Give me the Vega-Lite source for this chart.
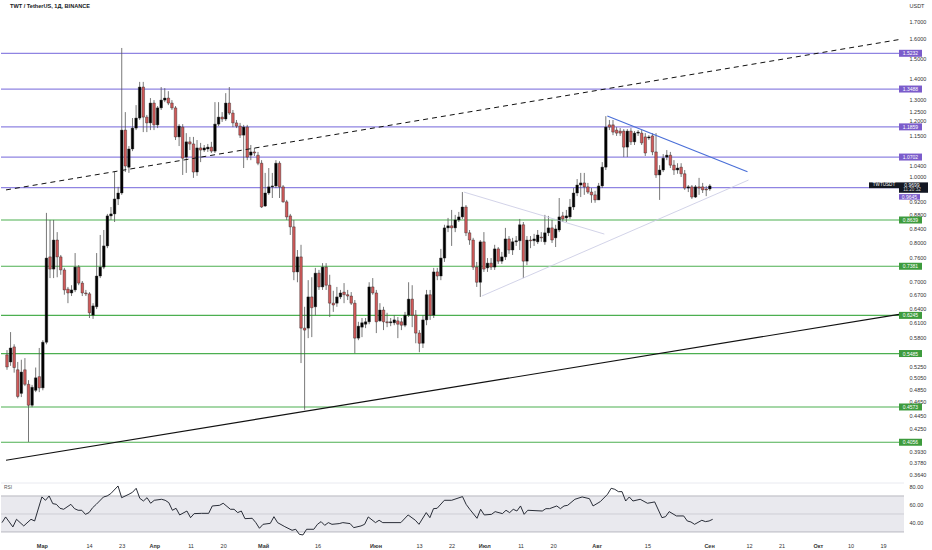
{
  "$schema": "https://vega.github.io/schema/vega-lite/v6.json",
  "padding": 0,
  "background": "white",
  "spacing": 0,
  "config": {
    "view": {"stroke": null},
    "font": "Liberation Sans",
    "axis": {"grid": false, "domain": false, "ticks": false, "labelFont": "Liberation Sans", "labelFontSize": 5.5, "labelColor": "#333333", "labelOverlap": false}
  },
  "datasets": {
    "candles": [
      {"d": "2022-02-18", "o": 0.546, "h": 0.555, "l": 0.519, "c": 0.524},
      {"d": "2022-02-19", "o": 0.533, "h": 0.590, "l": 0.526, "c": 0.559},
      {"d": "2022-02-20", "o": 0.561, "h": 0.566, "l": 0.514, "c": 0.523},
      {"d": "2022-02-21", "o": 0.519, "h": 0.533, "l": 0.471, "c": 0.474},
      {"d": "2022-02-22", "o": 0.479, "h": 0.537, "l": 0.473, "c": 0.515},
      {"d": "2022-02-23", "o": 0.519, "h": 0.540, "l": 0.491, "c": 0.494},
      {"d": "2022-02-24", "o": 0.494, "h": 0.501, "l": 0.406, "c": 0.460},
      {"d": "2022-02-25", "o": 0.460, "h": 0.493, "l": 0.457, "c": 0.489},
      {"d": "2022-02-26", "o": 0.484, "h": 0.523, "l": 0.481, "c": 0.505},
      {"d": "2022-02-27", "o": 0.507, "h": 0.559, "l": 0.481, "c": 0.488},
      {"d": "2022-02-28", "o": 0.488, "h": 0.574, "l": 0.484, "c": 0.570},
      {"d": "2022-03-01", "o": 0.570, "h": 0.885, "l": 0.566, "c": 0.759},
      {"d": "2022-03-02", "o": 0.762, "h": 0.864, "l": 0.709, "c": 0.731},
      {"d": "2022-03-03", "o": 0.731, "h": 0.864, "l": 0.709, "c": 0.807},
      {"d": "2022-03-04", "o": 0.807, "h": 0.829, "l": 0.711, "c": 0.762},
      {"d": "2022-03-05", "o": 0.762, "h": 0.767, "l": 0.717, "c": 0.729},
      {"d": "2022-03-06", "o": 0.729, "h": 0.734, "l": 0.670, "c": 0.681},
      {"d": "2022-03-07", "o": 0.683, "h": 0.688, "l": 0.651, "c": 0.674},
      {"d": "2022-03-08", "o": 0.674, "h": 0.692, "l": 0.667, "c": 0.681},
      {"d": "2022-03-09", "o": 0.681, "h": 0.772, "l": 0.676, "c": 0.736},
      {"d": "2022-03-10", "o": 0.736, "h": 0.741, "l": 0.692, "c": 0.697},
      {"d": "2022-03-11", "o": 0.697, "h": 0.702, "l": 0.667, "c": 0.674},
      {"d": "2022-03-12", "o": 0.674, "h": 0.681, "l": 0.667, "c": 0.672},
      {"d": "2022-03-13", "o": 0.672, "h": 0.676, "l": 0.619, "c": 0.630},
      {"d": "2022-03-14", "o": 0.625, "h": 0.651, "l": 0.617, "c": 0.645},
      {"d": "2022-03-15", "o": 0.643, "h": 0.772, "l": 0.638, "c": 0.714},
      {"d": "2022-03-16", "o": 0.714, "h": 0.821, "l": 0.709, "c": 0.736},
      {"d": "2022-03-17", "o": 0.736, "h": 0.835, "l": 0.731, "c": 0.791},
      {"d": "2022-03-18", "o": 0.791, "h": 0.882, "l": 0.785, "c": 0.876},
      {"d": "2022-03-19", "o": 0.876, "h": 0.903, "l": 0.864, "c": 0.882},
      {"d": "2022-03-20", "o": 0.882, "h": 1.017, "l": 0.858, "c": 0.928},
      {"d": "2022-03-21", "o": 0.928, "h": 0.967, "l": 0.909, "c": 0.947},
      {"d": "2022-03-22", "o": 0.947, "h": 1.551, "l": 0.941, "c": 1.173},
      {"d": "2022-03-23", "o": 1.173, "h": 1.247, "l": 1.017, "c": 1.038},
      {"d": "2022-03-24", "o": 1.034, "h": 1.111, "l": 1.014, "c": 1.100},
      {"d": "2022-03-25", "o": 1.100, "h": 1.222, "l": 1.092, "c": 1.181},
      {"d": "2022-03-26", "o": 1.181, "h": 1.277, "l": 1.173, "c": 1.222},
      {"d": "2022-03-27", "o": 1.222, "h": 1.382, "l": 1.214, "c": 1.358},
      {"d": "2022-03-28", "o": 1.358, "h": 1.382, "l": 1.165, "c": 1.226},
      {"d": "2022-03-29", "o": 1.226, "h": 1.235, "l": 1.165, "c": 1.202},
      {"d": "2022-03-30", "o": 1.202, "h": 1.308, "l": 1.173, "c": 1.286},
      {"d": "2022-03-31", "o": 1.286, "h": 1.299, "l": 1.173, "c": 1.194},
      {"d": "2022-04-01", "o": 1.194, "h": 1.273, "l": 1.181, "c": 1.265},
      {"d": "2022-04-02", "o": 1.265, "h": 1.358, "l": 1.256, "c": 1.299},
      {"d": "2022-04-03", "o": 1.299, "h": 1.353, "l": 1.290, "c": 1.308},
      {"d": "2022-04-04", "o": 1.308, "h": 1.339, "l": 1.277, "c": 1.286},
      {"d": "2022-04-05", "o": 1.286, "h": 1.299, "l": 1.256, "c": 1.265},
      {"d": "2022-04-06", "o": 1.265, "h": 1.273, "l": 1.134, "c": 1.146},
      {"d": "2022-04-07", "o": 1.146, "h": 1.197, "l": 1.111, "c": 1.189},
      {"d": "2022-04-08", "o": 1.185, "h": 1.197, "l": 1.007, "c": 1.066},
      {"d": "2022-04-09", "o": 1.070, "h": 1.161, "l": 1.014, "c": 1.127},
      {"d": "2022-04-10", "o": 1.127, "h": 1.146, "l": 1.096, "c": 1.119},
      {"d": "2022-04-11", "o": 1.119, "h": 1.146, "l": 0.997, "c": 1.017},
      {"d": "2022-04-12", "o": 1.017, "h": 1.134, "l": 1.004, "c": 1.104},
      {"d": "2022-04-13", "o": 1.104, "h": 1.123, "l": 1.052, "c": 1.096},
      {"d": "2022-04-14", "o": 1.096, "h": 1.115, "l": 1.089, "c": 1.104},
      {"d": "2022-04-15", "o": 1.100, "h": 1.119, "l": 1.089, "c": 1.107},
      {"d": "2022-04-16", "o": 1.107, "h": 1.127, "l": 1.085, "c": 1.092},
      {"d": "2022-04-17", "o": 1.092, "h": 1.290, "l": 1.085, "c": 1.197},
      {"d": "2022-04-18", "o": 1.197, "h": 1.290, "l": 1.189, "c": 1.226},
      {"d": "2022-04-19", "o": 1.226, "h": 1.247, "l": 1.206, "c": 1.218},
      {"d": "2022-04-20", "o": 1.218, "h": 1.330, "l": 1.210, "c": 1.286},
      {"d": "2022-04-21", "o": 1.286, "h": 1.358, "l": 1.235, "c": 1.243},
      {"d": "2022-04-22", "o": 1.243, "h": 1.256, "l": 1.185, "c": 1.202},
      {"d": "2022-04-23", "o": 1.202, "h": 1.214, "l": 1.181, "c": 1.189},
      {"d": "2022-04-24", "o": 1.189, "h": 1.202, "l": 1.142, "c": 1.153},
      {"d": "2022-04-25", "o": 1.153, "h": 1.194, "l": 1.031, "c": 1.185},
      {"d": "2022-04-26", "o": 1.185, "h": 1.194, "l": 1.059, "c": 1.070},
      {"d": "2022-04-27", "o": 1.077, "h": 1.115, "l": 1.059, "c": 1.089},
      {"d": "2022-04-28", "o": 1.089, "h": 1.104, "l": 1.074, "c": 1.085},
      {"d": "2022-04-29", "o": 1.077, "h": 1.089, "l": 1.041, "c": 1.048},
      {"d": "2022-04-30", "o": 1.048, "h": 1.059, "l": 0.900, "c": 0.903},
      {"d": "2022-05-01", "o": 0.906, "h": 1.014, "l": 0.903, "c": 0.947},
      {"d": "2022-05-02", "o": 0.947, "h": 1.031, "l": 0.941, "c": 0.967},
      {"d": "2022-05-03", "o": 0.967, "h": 1.014, "l": 0.931, "c": 0.970},
      {"d": "2022-05-04", "o": 0.970, "h": 1.059, "l": 0.963, "c": 1.048},
      {"d": "2022-05-05", "o": 1.048, "h": 1.055, "l": 0.931, "c": 0.967},
      {"d": "2022-05-06", "o": 0.967, "h": 0.973, "l": 0.916, "c": 0.919},
      {"d": "2022-05-07", "o": 0.919, "h": 0.925, "l": 0.864, "c": 0.873},
      {"d": "2022-05-08", "o": 0.876, "h": 0.882, "l": 0.821, "c": 0.844},
      {"d": "2022-05-09", "o": 0.844, "h": 0.864, "l": 0.704, "c": 0.724},
      {"d": "2022-05-10", "o": 0.724, "h": 0.780, "l": 0.699, "c": 0.762},
      {"d": "2022-05-11", "o": 0.762, "h": 0.794, "l": 0.531, "c": 0.598},
      {"d": "2022-05-12", "o": 0.598, "h": 0.643, "l": 0.453, "c": 0.594},
      {"d": "2022-05-13", "o": 0.598, "h": 0.704, "l": 0.578, "c": 0.665},
      {"d": "2022-05-14", "o": 0.665, "h": 0.711, "l": 0.580, "c": 0.641},
      {"d": "2022-05-15", "o": 0.643, "h": 0.734, "l": 0.625, "c": 0.721},
      {"d": "2022-05-16", "o": 0.721, "h": 0.729, "l": 0.681, "c": 0.688},
      {"d": "2022-05-17", "o": 0.688, "h": 0.746, "l": 0.681, "c": 0.736},
      {"d": "2022-05-18", "o": 0.736, "h": 0.746, "l": 0.681, "c": 0.692},
      {"d": "2022-05-19", "o": 0.692, "h": 0.717, "l": 0.621, "c": 0.651},
      {"d": "2022-05-20", "o": 0.651, "h": 0.679, "l": 0.632, "c": 0.647},
      {"d": "2022-05-21", "o": 0.651, "h": 0.688, "l": 0.643, "c": 0.665},
      {"d": "2022-05-22", "o": 0.665, "h": 0.681, "l": 0.660, "c": 0.674},
      {"d": "2022-05-23", "o": 0.676, "h": 0.697, "l": 0.651, "c": 0.670},
      {"d": "2022-05-24", "o": 0.670, "h": 0.681, "l": 0.658, "c": 0.667},
      {"d": "2022-05-25", "o": 0.667, "h": 0.676, "l": 0.647, "c": 0.651},
      {"d": "2022-05-26", "o": 0.651, "h": 0.658, "l": 0.549, "c": 0.578},
      {"d": "2022-05-27", "o": 0.578, "h": 0.611, "l": 0.574, "c": 0.602},
      {"d": "2022-05-28", "o": 0.600, "h": 0.619, "l": 0.580, "c": 0.609},
      {"d": "2022-05-29", "o": 0.606, "h": 0.619, "l": 0.598, "c": 0.611},
      {"d": "2022-05-30", "o": 0.611, "h": 0.699, "l": 0.606, "c": 0.688},
      {"d": "2022-05-31", "o": 0.688, "h": 0.709, "l": 0.670, "c": 0.674},
      {"d": "2022-06-01", "o": 0.674, "h": 0.681, "l": 0.588, "c": 0.611},
      {"d": "2022-06-02", "o": 0.613, "h": 0.651, "l": 0.611, "c": 0.636},
      {"d": "2022-06-03", "o": 0.636, "h": 0.643, "l": 0.594, "c": 0.611},
      {"d": "2022-06-04", "o": 0.611, "h": 0.630, "l": 0.600, "c": 0.609},
      {"d": "2022-06-05", "o": 0.609, "h": 0.619, "l": 0.602, "c": 0.611},
      {"d": "2022-06-06", "o": 0.609, "h": 0.625, "l": 0.604, "c": 0.615},
      {"d": "2022-06-07", "o": 0.613, "h": 0.621, "l": 0.578, "c": 0.606},
      {"d": "2022-06-08", "o": 0.611, "h": 0.619, "l": 0.594, "c": 0.604},
      {"d": "2022-06-09", "o": 0.604, "h": 0.632, "l": 0.600, "c": 0.625},
      {"d": "2022-06-10", "o": 0.625, "h": 0.699, "l": 0.621, "c": 0.660},
      {"d": "2022-06-11", "o": 0.660, "h": 0.692, "l": 0.600, "c": 0.625},
      {"d": "2022-06-12", "o": 0.625, "h": 0.636, "l": 0.568, "c": 0.588},
      {"d": "2022-06-13", "o": 0.588, "h": 0.594, "l": 0.551, "c": 0.568},
      {"d": "2022-06-14", "o": 0.568, "h": 0.625, "l": 0.559, "c": 0.615},
      {"d": "2022-06-15", "o": 0.615, "h": 0.681, "l": 0.604, "c": 0.670},
      {"d": "2022-06-16", "o": 0.670, "h": 0.681, "l": 0.615, "c": 0.625},
      {"d": "2022-06-17", "o": 0.625, "h": 0.734, "l": 0.619, "c": 0.724},
      {"d": "2022-06-18", "o": 0.724, "h": 0.734, "l": 0.704, "c": 0.714},
      {"d": "2022-06-19", "o": 0.714, "h": 0.783, "l": 0.704, "c": 0.759},
      {"d": "2022-06-20", "o": 0.759, "h": 0.850, "l": 0.749, "c": 0.841},
      {"d": "2022-06-21", "o": 0.841, "h": 0.870, "l": 0.829, "c": 0.847},
      {"d": "2022-06-22", "o": 0.847, "h": 0.894, "l": 0.791, "c": 0.841},
      {"d": "2022-06-23", "o": 0.841, "h": 0.879, "l": 0.829, "c": 0.864},
      {"d": "2022-06-24", "o": 0.864, "h": 0.888, "l": 0.858, "c": 0.873},
      {"d": "2022-06-25", "o": 0.873, "h": 0.950, "l": 0.867, "c": 0.903},
      {"d": "2022-06-26", "o": 0.903, "h": 0.909, "l": 0.818, "c": 0.827},
      {"d": "2022-06-27", "o": 0.827, "h": 0.835, "l": 0.794, "c": 0.807},
      {"d": "2022-06-28", "o": 0.807, "h": 0.813, "l": 0.729, "c": 0.736},
      {"d": "2022-06-29", "o": 0.736, "h": 0.749, "l": 0.688, "c": 0.699},
      {"d": "2022-06-30", "o": 0.699, "h": 0.807, "l": 0.665, "c": 0.802},
      {"d": "2022-07-01", "o": 0.802, "h": 0.829, "l": 0.724, "c": 0.731},
      {"d": "2022-07-02", "o": 0.734, "h": 0.759, "l": 0.724, "c": 0.746},
      {"d": "2022-07-03", "o": 0.746, "h": 0.759, "l": 0.729, "c": 0.736},
      {"d": "2022-07-04", "o": 0.736, "h": 0.794, "l": 0.729, "c": 0.783},
      {"d": "2022-07-05", "o": 0.783, "h": 0.788, "l": 0.744, "c": 0.751},
      {"d": "2022-07-06", "o": 0.751, "h": 0.775, "l": 0.744, "c": 0.762},
      {"d": "2022-07-07", "o": 0.762, "h": 0.841, "l": 0.754, "c": 0.810},
      {"d": "2022-07-08", "o": 0.810, "h": 0.818, "l": 0.770, "c": 0.780},
      {"d": "2022-07-09", "o": 0.780, "h": 0.813, "l": 0.767, "c": 0.802},
      {"d": "2022-07-10", "o": 0.802, "h": 0.818, "l": 0.791, "c": 0.805},
      {"d": "2022-07-11", "o": 0.805, "h": 0.867, "l": 0.780, "c": 0.850},
      {"d": "2022-07-12", "o": 0.850, "h": 0.858, "l": 0.709, "c": 0.751},
      {"d": "2022-07-13", "o": 0.751, "h": 0.818, "l": 0.741, "c": 0.807},
      {"d": "2022-07-14", "o": 0.807, "h": 0.818, "l": 0.785, "c": 0.805},
      {"d": "2022-07-15", "o": 0.805, "h": 0.824, "l": 0.791, "c": 0.810},
      {"d": "2022-07-16", "o": 0.802, "h": 0.835, "l": 0.796, "c": 0.821},
      {"d": "2022-07-17", "o": 0.815, "h": 0.829, "l": 0.802, "c": 0.813},
      {"d": "2022-07-18", "o": 0.802, "h": 0.879, "l": 0.794, "c": 0.827},
      {"d": "2022-07-19", "o": 0.827, "h": 0.876, "l": 0.818, "c": 0.841},
      {"d": "2022-07-20", "o": 0.841, "h": 0.864, "l": 0.799, "c": 0.807},
      {"d": "2022-07-21", "o": 0.813, "h": 0.850, "l": 0.788, "c": 0.838},
      {"d": "2022-07-22", "o": 0.835, "h": 0.931, "l": 0.829, "c": 0.873},
      {"d": "2022-07-23", "o": 0.876, "h": 0.888, "l": 0.858, "c": 0.867},
      {"d": "2022-07-24", "o": 0.870, "h": 0.894, "l": 0.858, "c": 0.876},
      {"d": "2022-07-25", "o": 0.873, "h": 0.928, "l": 0.867, "c": 0.903},
      {"d": "2022-07-26", "o": 0.903, "h": 0.963, "l": 0.894, "c": 0.947},
      {"d": "2022-07-27", "o": 0.947, "h": 0.993, "l": 0.937, "c": 0.973},
      {"d": "2022-07-28", "o": 0.973, "h": 1.014, "l": 0.934, "c": 0.980},
      {"d": "2022-07-29", "o": 0.980, "h": 1.014, "l": 0.941, "c": 0.967},
      {"d": "2022-07-30", "o": 0.967, "h": 0.980, "l": 0.944, "c": 0.950},
      {"d": "2022-07-31", "o": 0.950, "h": 0.963, "l": 0.916, "c": 0.941},
      {"d": "2022-08-01", "o": 0.941, "h": 0.954, "l": 0.916, "c": 0.925},
      {"d": "2022-08-02", "o": 0.925, "h": 0.980, "l": 0.925, "c": 0.970},
      {"d": "2022-08-03", "o": 0.970, "h": 1.052, "l": 0.963, "c": 1.034},
      {"d": "2022-08-04", "o": 1.034, "h": 1.230, "l": 1.024, "c": 1.185},
      {"d": "2022-08-05", "o": 1.194, "h": 1.214, "l": 1.173, "c": 1.185},
      {"d": "2022-08-06", "o": 1.194, "h": 1.214, "l": 1.153, "c": 1.165},
      {"d": "2022-08-07", "o": 1.173, "h": 1.185, "l": 1.150, "c": 1.161},
      {"d": "2022-08-08", "o": 1.169, "h": 1.181, "l": 1.150, "c": 1.161},
      {"d": "2022-08-09", "o": 1.169, "h": 1.177, "l": 1.070, "c": 1.107},
      {"d": "2022-08-10", "o": 1.107, "h": 1.177, "l": 1.070, "c": 1.169},
      {"d": "2022-08-11", "o": 1.169, "h": 1.181, "l": 1.115, "c": 1.127},
      {"d": "2022-08-12", "o": 1.127, "h": 1.169, "l": 1.115, "c": 1.161},
      {"d": "2022-08-13", "o": 1.161, "h": 1.173, "l": 1.150, "c": 1.165},
      {"d": "2022-08-14", "o": 1.161, "h": 1.173, "l": 1.115, "c": 1.123},
      {"d": "2022-08-15", "o": 1.146, "h": 1.161, "l": 1.074, "c": 1.085},
      {"d": "2022-08-16", "o": 1.142, "h": 1.153, "l": 1.134, "c": 1.146},
      {"d": "2022-08-17", "o": 1.150, "h": 1.161, "l": 1.077, "c": 1.089},
      {"d": "2022-08-18", "o": 1.089, "h": 1.161, "l": 0.997, "c": 1.007},
      {"d": "2022-08-19", "o": 1.007, "h": 1.041, "l": 0.925, "c": 1.024},
      {"d": "2022-08-20", "o": 1.024, "h": 1.081, "l": 1.017, "c": 1.066},
      {"d": "2022-08-21", "o": 1.070, "h": 1.096, "l": 1.059, "c": 1.077},
      {"d": "2022-08-22", "o": 1.077, "h": 1.089, "l": 1.031, "c": 1.041},
      {"d": "2022-08-23", "o": 1.041, "h": 1.059, "l": 1.007, "c": 1.024},
      {"d": "2022-08-24", "o": 1.024, "h": 1.048, "l": 1.011, "c": 1.031},
      {"d": "2022-08-25", "o": 1.034, "h": 1.048, "l": 1.000, "c": 1.011},
      {"d": "2022-08-26", "o": 1.011, "h": 1.024, "l": 0.957, "c": 0.963},
      {"d": "2022-08-27", "o": 0.963, "h": 0.973, "l": 0.950, "c": 0.967},
      {"d": "2022-08-28", "o": 0.967, "h": 0.973, "l": 0.928, "c": 0.934},
      {"d": "2022-08-29", "o": 0.934, "h": 0.973, "l": 0.931, "c": 0.967},
      {"d": "2022-08-30", "o": 0.967, "h": 0.997, "l": 0.941, "c": 0.963},
      {"d": "2022-08-31", "o": 0.967, "h": 0.980, "l": 0.947, "c": 0.957},
      {"d": "2022-09-01", "o": 0.960, "h": 0.970, "l": 0.937, "c": 0.957},
      {"d": "2022-09-02", "o": 0.960, "h": 0.976, "l": 0.954, "c": 0.970}
    ],
    "rsi": [
      {"d": "2022-02-18", "v": 40.4}, {"d": "2022-02-19", "v": 46.7}, {"d": "2022-02-21", "v": 35.6},
      {"d": "2022-02-22", "v": 44.1}, {"d": "2022-02-24", "v": 36.7}, {"d": "2022-02-26", "v": 44.1},
      {"d": "2022-02-27", "v": 42.2}, {"d": "2022-03-01", "v": 68.9}, {"d": "2022-03-02", "v": 65.2},
      {"d": "2022-03-03", "v": 70.0}, {"d": "2022-03-04", "v": 61.5}, {"d": "2022-03-05", "v": 60.7},
      {"d": "2022-03-06", "v": 56.3}, {"d": "2022-03-07", "v": 55.2}, {"d": "2022-03-09", "v": 60.7},
      {"d": "2022-03-10", "v": 55.9}, {"d": "2022-03-11", "v": 54.1}, {"d": "2022-03-12", "v": 54.1},
      {"d": "2022-03-13", "v": 49.6}, {"d": "2022-03-14", "v": 51.5}, {"d": "2022-03-15", "v": 57.0},
      {"d": "2022-03-16", "v": 60.7}, {"d": "2022-03-18", "v": 68.9}, {"d": "2022-03-19", "v": 70.0},
      {"d": "2022-03-20", "v": 72.6}, {"d": "2022-03-22", "v": 81.1}, {"d": "2022-03-23", "v": 68.1},
      {"d": "2022-03-25", "v": 71.9}, {"d": "2022-03-26", "v": 74.1}, {"d": "2022-03-27", "v": 78.5},
      {"d": "2022-03-28", "v": 67.4}, {"d": "2022-03-29", "v": 64.4}, {"d": "2022-03-30", "v": 68.1},
      {"d": "2022-03-31", "v": 61.9}, {"d": "2022-04-01", "v": 65.2}, {"d": "2022-04-03", "v": 66.3},
      {"d": "2022-04-04", "v": 65.2}, {"d": "2022-04-05", "v": 62.6}, {"d": "2022-04-06", "v": 54.1},
      {"d": "2022-04-07", "v": 56.3}, {"d": "2022-04-08", "v": 48.9}, {"d": "2022-04-10", "v": 53.3},
      {"d": "2022-04-11", "v": 45.9}, {"d": "2022-04-12", "v": 50.4}, {"d": "2022-04-14", "v": 50.7},
      {"d": "2022-04-16", "v": 50.7}, {"d": "2022-04-17", "v": 58.9}, {"d": "2022-04-19", "v": 59.6},
      {"d": "2022-04-20", "v": 61.9}, {"d": "2022-04-22", "v": 55.2}, {"d": "2022-04-23", "v": 55.2},
      {"d": "2022-04-24", "v": 51.5}, {"d": "2022-04-25", "v": 53.3}, {"d": "2022-04-26", "v": 44.8},
      {"d": "2022-04-28", "v": 45.2}, {"d": "2022-04-29", "v": 40.4}, {"d": "2022-04-30", "v": 34.1},
      {"d": "2022-05-01", "v": 38.5}, {"d": "2022-05-03", "v": 39.6}, {"d": "2022-05-04", "v": 47.0},
      {"d": "2022-05-05", "v": 40.4}, {"d": "2022-05-07", "v": 35.9}, {"d": "2022-05-09", "v": 31.9},
      {"d": "2022-05-10", "v": 33.0}, {"d": "2022-05-11", "v": 27.4}, {"d": "2022-05-12", "v": 26.7},
      {"d": "2022-05-13", "v": 33.0}, {"d": "2022-05-15", "v": 33.0}, {"d": "2022-05-16", "v": 38.5},
      {"d": "2022-05-17", "v": 41.5}, {"d": "2022-05-18", "v": 37.4}, {"d": "2022-05-19", "v": 40.4},
      {"d": "2022-05-20", "v": 38.5}, {"d": "2022-05-22", "v": 39.3}, {"d": "2022-05-23", "v": 40.4},
      {"d": "2022-05-25", "v": 39.3}, {"d": "2022-05-26", "v": 34.8}, {"d": "2022-05-28", "v": 36.7},
      {"d": "2022-05-29", "v": 38.5}, {"d": "2022-05-30", "v": 46.7}, {"d": "2022-06-01", "v": 40.4},
      {"d": "2022-06-02", "v": 43.0}, {"d": "2022-06-03", "v": 40.4}, {"d": "2022-06-08", "v": 40.4},
      {"d": "2022-06-10", "v": 48.9}, {"d": "2022-06-12", "v": 43.0}, {"d": "2022-06-13", "v": 38.5},
      {"d": "2022-06-15", "v": 51.5}, {"d": "2022-06-16", "v": 45.9}, {"d": "2022-06-17", "v": 55.9},
      {"d": "2022-06-18", "v": 56.3}, {"d": "2022-06-20", "v": 65.2}, {"d": "2022-06-22", "v": 65.2},
      {"d": "2022-06-25", "v": 69.3}, {"d": "2022-06-26", "v": 60.7}, {"d": "2022-06-27", "v": 55.2},
      {"d": "2022-06-29", "v": 45.2}, {"d": "2022-06-30", "v": 55.2}, {"d": "2022-07-01", "v": 48.9},
      {"d": "2022-07-03", "v": 49.6}, {"d": "2022-07-04", "v": 52.6}, {"d": "2022-07-06", "v": 50.4},
      {"d": "2022-07-07", "v": 54.1}, {"d": "2022-07-08", "v": 51.5}, {"d": "2022-07-09", "v": 55.2},
      {"d": "2022-07-10", "v": 53.3}, {"d": "2022-07-11", "v": 58.9}, {"d": "2022-07-12", "v": 49.6},
      {"d": "2022-07-13", "v": 54.1}, {"d": "2022-07-17", "v": 53.3}, {"d": "2022-07-18", "v": 55.9},
      {"d": "2022-07-19", "v": 55.9}, {"d": "2022-07-21", "v": 58.9}, {"d": "2022-07-22", "v": 55.9},
      {"d": "2022-07-23", "v": 58.9}, {"d": "2022-07-24", "v": 59.6}, {"d": "2022-07-26", "v": 66.3},
      {"d": "2022-07-28", "v": 68.9}, {"d": "2022-07-30", "v": 67.0}, {"d": "2022-07-31", "v": 58.9},
      {"d": "2022-08-02", "v": 63.7}, {"d": "2022-08-04", "v": 71.9}, {"d": "2022-08-05", "v": 78.5},
      {"d": "2022-08-06", "v": 77.4}, {"d": "2022-08-07", "v": 74.8}, {"d": "2022-08-08", "v": 74.8},
      {"d": "2022-08-09", "v": 64.4}, {"d": "2022-08-10", "v": 68.9}, {"d": "2022-08-11", "v": 64.4},
      {"d": "2022-08-13", "v": 66.3}, {"d": "2022-08-15", "v": 61.9}, {"d": "2022-08-16", "v": 62.6},
      {"d": "2022-08-17", "v": 63.4}, {"d": "2022-08-19", "v": 45.9}, {"d": "2022-08-20", "v": 47.0},
      {"d": "2022-08-21", "v": 52.6}, {"d": "2022-08-23", "v": 47.8}, {"d": "2022-08-25", "v": 47.8},
      {"d": "2022-08-26", "v": 42.2}, {"d": "2022-08-27", "v": 41.1}, {"d": "2022-08-28", "v": 38.5},
      {"d": "2022-08-30", "v": 43.0}, {"d": "2022-08-31", "v": 41.5}, {"d": "2022-09-01", "v": 42.2},
      {"d": "2022-09-02", "v": 44.1}
    ],
    "levels": [
      {"level": 1.5232, "kind": "purple"},
      {"level": 1.3488, "kind": "purple"},
      {"level": 1.1859, "kind": "purple"},
      {"level": 1.0702, "kind": "purple"},
      {"level": 0.9645, "kind": "purple"},
      {"level": 0.8639, "kind": "green"},
      {"level": 0.7381, "kind": "green"},
      {"level": 0.6245, "kind": "green"},
      {"level": 0.5485, "kind": "green"},
      {"level": 0.4573, "kind": "green"},
      {"level": 0.4056, "kind": "green"}
    ],
    "trend": [
      {"id": "dash", "d": "2022-02-17T17:23:00Z", "p": 0.957},
      {"id": "dash", "d": "2022-10-24T18:14:00Z", "p": 1.596},
      {"id": "solid", "d": "2022-02-17T17:23:00Z", "p": 0.3816},
      {"id": "solid", "d": "2022-10-24T18:14:00Z", "p": 0.6267},
      {"id": "blue", "d": "2022-08-04T10:00:00Z", "p": 1.2305},
      {"id": "blue", "d": "2022-09-12T12:00:00Z", "p": 1.018},
      {"id": "g1", "d": "2022-06-25T10:00:00Z", "p": 0.950},
      {"id": "g1", "d": "2022-08-03T14:00:00Z", "p": 0.8235},
      {"id": "g2", "d": "2022-06-30T10:00:00Z", "p": 0.667},
      {"id": "g2", "d": "2022-09-12T19:00:00Z", "p": 0.9897}
    ],
    "last": [{"p": 0.9699, "sym": "TWTUSDT", "price": "0.9699", "time": "11:20:32"}],
    "heading": [{"p": 1.789, "text": "TWT / TetherUS, 1Д, BINANCE"}],
    "bands": [{"lo": 30, "mid": 50, "hi": 70, "top": 84.4, "tag": 79, "name": "RSI"}]
  },
  "vconcat": [
    {
      "width": 903,
      "height": 482,
      "layer": [
        {
          "data": {"name": "levels"},
          "transform": [{"filter": "datum.kind == 'purple'"}],
          "mark": {"type": "rule", "strokeWidth": 1.2, "color": "#8f84e2"},
          "encoding": {
            "y": {
              "field": "level", "type": "quantitative", "title": "USDT",
              "scale": {"type": "log", "domain": [0.3543, 1.826], "nice": false},
              "axis": {
                "orient": "right", "format": ".4f", "labelPadding": 5,
                "values": [1.7, 1.6, 1.5, 1.4, 1.3, 1.25, 1.2, 1.15, 1.04, 1.0, 0.92, 0.88, 0.84, 0.8, 0.76, 0.7, 0.67, 0.64, 0.61, 0.58, 0.525, 0.505, 0.485, 0.465, 0.445, 0.425, 0.393, 0.378, 0.364],
                "labelOffset": {"condition": [{"test": "datum.value == 1.2", "value": -2.5}, {"test": "datum.value == 1.5", "value": 1}, {"test": "datum.value == 0.465", "value": -1}], "value": 0},
                "titleAngle": 0, "titleX": 5, "titleY": 5, "titleAlign": "left", "titleBaseline": "middle",
                "titleFontSize": 5.5, "titleFontWeight": "normal", "titleColor": "#333333"
              }
            }
          }
        },
        {
          "data": {"name": "levels"},
          "transform": [{"filter": "datum.kind == 'green'"}],
          "mark": {"type": "rule", "strokeWidth": 1.2, "color": "#4caf50"},
          "encoding": {
            "y": {"field": "level", "type": "quantitative", "title": "USDT"}
          }
        },
        {
          "data": {"name": "candles"},
          "mark": {"type": "rule", "strokeWidth": 0.8, "color": "#555555"},
          "encoding": {
            "x": {"field": "d", "type": "temporal", "axis": null,
                  "scale": {"type": "utc", "domain": [{"year": 2022, "month": 2, "date": 17, "hours": 17, "minutes": 23, "utc": true}, {"year": 2022, "month": 10, "date": 24, "hours": 18, "minutes": 14, "utc": true}]}},
            "y": {"field": "l", "type": "quantitative", "title": "USDT"},
            "y2": {"field": "h"}
          }
        },
        {
          "data": {"name": "candles"},
          "mark": {"type": "bar", "width": 2.6, "stroke": "#222222", "strokeWidth": 0.4},
          "encoding": {
            "x": {"field": "d", "type": "temporal", "axis": null},
            "y": {"field": "o", "type": "quantitative", "title": "USDT"},
            "y2": {"field": "c"},
            "color": {"condition": {"test": "datum.c >= datum.o", "value": "#000000"}, "value": "#d05a5a"}
          }
        },
        {
          "data": {"name": "trend"},
          "transform": [{"filter": "datum.id == 'dash'"}],
          "mark": {"type": "line", "strokeWidth": 1, "strokeDash": [5, 4], "color": "#111111"},
          "encoding": {
            "x": {"field": "d", "type": "temporal", "axis": null},
            "y": {"field": "p", "type": "quantitative", "title": "USDT"}
          }
        },
        {
          "data": {"name": "trend"},
          "transform": [{"filter": "datum.id == 'solid'"}],
          "mark": {"type": "line", "strokeWidth": 1.1, "color": "#111111"},
          "encoding": {
            "x": {"field": "d", "type": "temporal", "axis": null},
            "y": {"field": "p", "type": "quantitative", "title": "USDT"}
          }
        },
        {
          "data": {"name": "trend"},
          "transform": [{"filter": "datum.id == 'blue'"}],
          "mark": {"type": "line", "strokeWidth": 1.2, "color": "#4a6fd8"},
          "encoding": {
            "x": {"field": "d", "type": "temporal", "axis": null},
            "y": {"field": "p", "type": "quantitative", "title": "USDT"}
          }
        },
        {
          "data": {"name": "trend"},
          "transform": [{"filter": "datum.id == 'g1' || datum.id == 'g2'"}],
          "mark": {"type": "line", "strokeWidth": 0.8, "color": "#c6c8e2"},
          "encoding": {
            "x": {"field": "d", "type": "temporal", "axis": null},
            "y": {"field": "p", "type": "quantitative", "title": "USDT"},
            "detail": {"field": "id"}
          }
        },
        {
          "data": {"name": "levels"},
          "transform": [{"filter": "datum.level != 0.9645"}],
          "layer": [
            {
              "mark": {"type": "rect", "xOffset": 0, "x2Offset": 23, "yOffset": -3.5, "y2Offset": 3.5},
              "encoding": {
                "x": {"datum": {"year": 2022, "month": 10, "date": 24, "hours": 18, "minutes": 14, "utc": true}, "type": "temporal", "axis": null},
                "x2": {"datum": {"year": 2022, "month": 10, "date": 24, "hours": 18, "minutes": 14, "utc": true}},
                "y": {"field": "level", "type": "quantitative", "title": "USDT"},
                "y2": {"field": "level"},
                "color": {"condition": {"test": "datum.kind == 'purple'", "value": "#7b5ccb"}, "value": "#3d9b3d"}
              }
            },
            {
              "mark": {"type": "text", "dx": 11.5, "fontSize": 5, "fill": "white", "align": "center", "baseline": "middle"},
              "encoding": {
                "x": {"datum": {"year": 2022, "month": 10, "date": 24, "hours": 18, "minutes": 14, "utc": true}, "type": "temporal", "axis": null},
                "y": {"field": "level", "type": "quantitative", "title": "USDT"},
                "text": {"field": "level", "type": "quantitative", "format": ".4f"}
              }
            }
          ]
        },
        {
          "data": {"name": "levels"},
          "transform": [{"filter": "datum.level == 0.9645"}],
          "layer": [
            {
              "mark": {"type": "rect", "xOffset": 0, "x2Offset": 21, "yOffset": 6.5, "y2Offset": 12, "color": "#7b5ccb"},
              "encoding": {
                "x": {"datum": {"year": 2022, "month": 10, "date": 24, "hours": 18, "minutes": 14, "utc": true}, "type": "temporal", "axis": null},
                "x2": {"datum": {"year": 2022, "month": 10, "date": 24, "hours": 18, "minutes": 14, "utc": true}},
                "y": {"field": "level", "type": "quantitative", "title": "USDT"},
                "y2": {"field": "level"}
              }
            },
            {
              "mark": {"type": "text", "dx": 10.5, "dy": 9.3, "fontSize": 5, "fill": "white", "align": "center", "baseline": "middle"},
              "encoding": {
                "x": {"datum": {"year": 2022, "month": 10, "date": 24, "hours": 18, "minutes": 14, "utc": true}, "type": "temporal", "axis": null},
                "y": {"field": "level", "type": "quantitative", "title": "USDT"},
                "text": {"field": "level", "type": "quantitative", "format": ".4f"}
              }
            }
          ]
        },
        {
          "data": {"name": "last"},
          "layer": [
            {
              "mark": {"type": "rect", "xOffset": -30, "x2Offset": 0, "yOffset": -3.6, "y2Offset": 2.2, "color": "#131722"},
              "encoding": {
                "x": {"datum": {"year": 2022, "month": 10, "date": 24, "hours": 18, "minutes": 14, "utc": true}, "type": "temporal", "axis": null},
                "x2": {"datum": {"year": 2022, "month": 10, "date": 24, "hours": 18, "minutes": 14, "utc": true}},
                "y": {"field": "p", "type": "quantitative", "title": "USDT"},
                "y2": {"field": "p"}
              }
            },
            {
              "mark": {"type": "rect", "xOffset": 0, "x2Offset": 29, "yOffset": -3.6, "y2Offset": 6.8, "color": "#131722"},
              "encoding": {
                "x": {"datum": {"year": 2022, "month": 10, "date": 24, "hours": 18, "minutes": 14, "utc": true}, "type": "temporal", "axis": null},
                "x2": {"datum": {"year": 2022, "month": 10, "date": 24, "hours": 18, "minutes": 14, "utc": true}},
                "y": {"field": "p", "type": "quantitative", "title": "USDT"},
                "y2": {"field": "p"}
              }
            },
            {
              "mark": {"type": "text", "dx": -15, "dy": -0.7, "fontSize": 4.6, "fill": "white", "align": "center", "baseline": "middle"},
              "encoding": {
                "x": {"datum": {"year": 2022, "month": 10, "date": 24, "hours": 18, "minutes": 14, "utc": true}, "type": "temporal", "axis": null},
                "y": {"field": "p", "type": "quantitative", "title": "USDT"},
                "text": {"field": "sym"}
              }
            },
            {
              "mark": {"type": "text", "dx": 13, "dy": -0.8, "fontSize": 5, "fill": "white", "align": "center", "baseline": "middle"},
              "encoding": {
                "x": {"datum": {"year": 2022, "month": 10, "date": 24, "hours": 18, "minutes": 14, "utc": true}, "type": "temporal", "axis": null},
                "y": {"field": "p", "type": "quantitative", "title": "USDT"},
                "text": {"field": "price"}
              }
            },
            {
              "mark": {"type": "text", "dx": 13, "dy": 4.2, "fontSize": 4.6, "fill": "#d8d8d8", "align": "center", "baseline": "middle"},
              "encoding": {
                "x": {"datum": {"year": 2022, "month": 10, "date": 24, "hours": 18, "minutes": 14, "utc": true}, "type": "temporal", "axis": null},
                "y": {"field": "p", "type": "quantitative", "title": "USDT"},
                "text": {"field": "time"}
              }
            }
          ]
        },
        {
          "data": {"name": "heading"},
          "mark": {"type": "text", "dx": 4, "fontSize": 5.6, "fontWeight": "bold", "fill": "#131722", "align": "left", "baseline": "middle"},
          "encoding": {
            "x": {"datum": {"year": 2022, "month": 2, "date": 17, "hours": 17, "minutes": 23, "utc": true}, "type": "temporal", "axis": null},
            "y": {"field": "p", "type": "quantitative", "title": "USDT"},
            "text": {"field": "text"}
          }
        }
      ]
    },
    {
      "width": 903,
      "height": 56,
      "resolve": {"axis": {"x": "independent", "y": "independent"}},
      "layer": [
        {
          "data": {"name": "bands"},
          "mark": {"type": "rect", "color": "#e9e9ee"},
          "encoding": {
            "x": {"datum": {"year": 2022, "month": 2, "date": 17, "hours": 17, "minutes": 23, "utc": true}, "type": "temporal", "axis": null,
                  "scale": {"type": "utc", "domain": [{"year": 2022, "month": 2, "date": 17, "hours": 17, "minutes": 23, "utc": true}, {"year": 2022, "month": 10, "date": 24, "hours": 18, "minutes": 14, "utc": true}]}},
            "x2": {"datum": {"year": 2022, "month": 10, "date": 24, "hours": 18, "minutes": 14, "utc": true}},
            "y": {"field": "lo", "type": "quantitative", "axis": null, "scale": {"domain": [22.2, 84.4], "nice": false, "zero": false}},
            "y2": {"field": "hi"}
          }
        },
        {
          "data": {"name": "bands"},
          "mark": {"type": "rule", "color": "#a9a9b2", "strokeWidth": 0.8},
          "encoding": {"y": {"field": "lo", "type": "quantitative", "axis": null}}
        },
        {
          "data": {"name": "bands"},
          "mark": {"type": "rule", "color": "#a9a9b2", "strokeWidth": 0.8},
          "encoding": {"y": {"field": "hi", "type": "quantitative", "axis": null}}
        },
        {
          "data": {"name": "bands"},
          "mark": {"type": "rule", "color": "#c4c4cc", "strokeWidth": 0.7},
          "encoding": {"y": {"field": "mid", "type": "quantitative", "axis": null}}
        },
        {
          "data": {"name": "bands"},
          "mark": {"type": "rule", "color": "#e3e5ec", "strokeWidth": 0.8},
          "encoding": {"y": {"field": "top", "type": "quantitative", "axis": null}}
        },
        {
          "data": {"name": "rsi"},
          "mark": {"type": "line", "color": "#131722", "strokeWidth": 0.9},
          "encoding": {
            "x": {
              "field": "d", "type": "temporal", "title": null,
              "axis": {
                "orient": "bottom", "labelPadding": 4, "labelAngle": 0, "labelFlush": false,
                "labelFontSize": 5.5, "labelColor": "#333333",
                "values": [
                  {"year": 2022, "month": 3, "date": 1, "utc": true}, {"year": 2022, "month": 3, "date": 14, "utc": true},
                  {"year": 2022, "month": 3, "date": 23, "utc": true}, {"year": 2022, "month": 4, "date": 1, "utc": true},
                  {"year": 2022, "month": 4, "date": 11, "utc": true}, {"year": 2022, "month": 4, "date": 20, "utc": true},
                  {"year": 2022, "month": 5, "date": 1, "utc": true}, {"year": 2022, "month": 5, "date": 16, "utc": true},
                  {"year": 2022, "month": 6, "date": 1, "utc": true}, {"year": 2022, "month": 6, "date": 13, "utc": true},
                  {"year": 2022, "month": 6, "date": 22, "utc": true}, {"year": 2022, "month": 7, "date": 1, "utc": true},
                  {"year": 2022, "month": 7, "date": 11, "utc": true}, {"year": 2022, "month": 7, "date": 20, "utc": true},
                  {"year": 2022, "month": 8, "date": 1, "utc": true}, {"year": 2022, "month": 8, "date": 15, "utc": true},
                  {"year": 2022, "month": 9, "date": 1, "utc": true}, {"year": 2022, "month": 9, "date": 12, "utc": true},
                  {"year": 2022, "month": 9, "date": 21, "utc": true}, {"year": 2022, "month": 10, "date": 1, "utc": true},
                  {"year": 2022, "month": 10, "date": 10, "utc": true}, {"year": 2022, "month": 10, "date": 19, "utc": true}
                ],
                "labelExpr": "utcdate(datum.value) == 1 ? ['Янв','Фев','Мар','Апр','Май','Июн','Июл','Авг','Сен','Окт','Ноя','Дек'][utcmonth(datum.value)] : '' + utcdate(datum.value)",
                "labelFontWeight": {"condition": {"test": "utcdate(datum.value) == 1", "value": "bold"}, "value": "normal"}
              }
            },
            "y": {
              "field": "v", "type": "quantitative", "title": null,
              "axis": {"orient": "right", "values": [40, 60, 80], "format": ".2f", "labelPadding": 5, "labelOverlap": false}
            }
          }
        },
        {
          "data": {"name": "bands"},
          "mark": {"type": "text", "dx": 3, "fontSize": 4.8, "fill": "#555555", "align": "left", "baseline": "middle"},
          "encoding": {
            "x": {"datum": {"year": 2022, "month": 2, "date": 17, "hours": 17, "minutes": 23, "utc": true}, "type": "temporal", "axis": null},
            "y": {"field": "tag", "type": "quantitative", "axis": null},
            "text": {"field": "name"}
          }
        }
      ]
    }
  ]
}
